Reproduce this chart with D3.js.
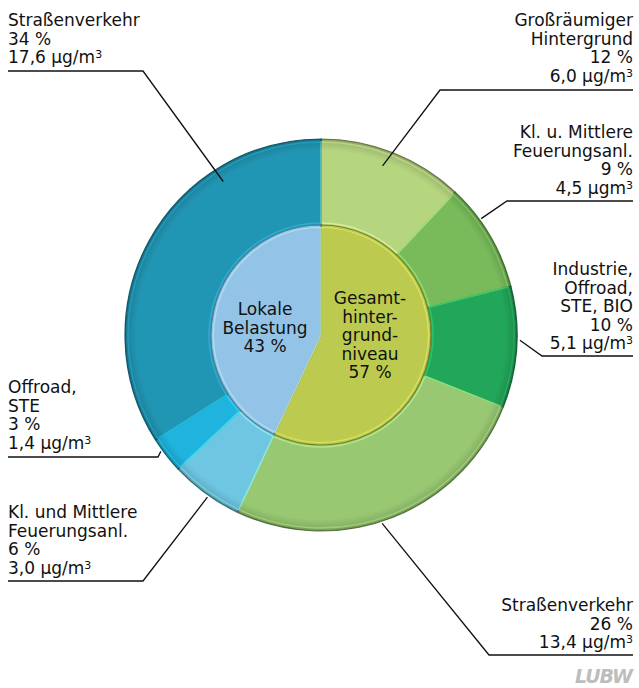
<!DOCTYPE html>
<html>
<head>
<meta charset="utf-8">
<script src="https://cdn.jsdelivr.net/npm/d3@7"></script>
<style>
  html, body { margin: 0; padding: 0; background: #fff; }
  svg { display: block; }
  text { font-family: "DejaVu Sans", sans-serif; fill: #111; }
</style>
</head>
<body>
<svg id="chart" width="639" height="688"></svg>
<script>
// ---- data ----
const innerCategories = ["Gesamthintergrundniveau", "Lokale Belastung"];
const innerValues = [57, 43];
const innerLabels = [["Gesamt-", "hinter-", "grund-", "niveau", "57 %"], ["Lokale", "Belastung", "43 %"]];

const outerCategories = ["Großräumiger Hintergrund", "Kl. u. Mittlere Feuerungsanl.", "Industrie, Offroad, STE, BIO",
  "Straßenverkehr (Hintergrund)", "Kl. und Mittlere Feuerungsanl.", "Offroad, STE", "Straßenverkehr (lokal)"];
const outerValues = [12, 9, 10, 26, 6, 3, 34];
const outerConc = ["6,0 µg/m³", "4,5 µgm³", "5,1 µg/m³", "13,4 µg/m³", "3,0 µg/m³", "1,4 µg/m³", "17,6 µg/m³"];
const outerLabelLines = [
  ["Großräumiger", "Hintergrund", "12 %"],
  ["Kl. u. Mittlere", "Feuerungsanl.", "9 %"],
  ["Industrie,", "Offroad,", "STE, BIO", "10 %"],
  ["Straßenverkehr", "26 %"],
  ["Kl. und Mittlere", "Feuerungsanl.", "6 %"],
  ["Offroad,", "STE", "3 %"],
  ["Straßenverkehr", "34 %"]
];

// ---- styles / layout ----
const innerColors = ["#bccb4f", "#93c4e7"];
const outerColors = ["#b6d57f", "#79bb5b", "#22a65a", "#98c872", "#6ec6e2", "#1fb3de", "#2196b4"];
const cx = 321, cy = 335, rOuter = 196, rInner = 110;
// label layout: side, first baseline, underline y, elbow x, leader end angle (deg), end radius
const labelLayout = [
  {side: "right", y0: 26, uy: 90, ex: 440, ang: 20, er: 180},
  {side: "right", y0: 138, uy: 201, ex: 507, ang: 54, er: 198},
  {side: "right", y0: 275, uy: 356, ex: 542, ang: 91.5, er: 199},
  {side: "right", y0: 611, uy: 655, ex: 489, ang: 162, er: 198},
  {side: "left", y0: 518, uy: 581, ex: 143, ang: 215, er: 198},
  {side: "left", y0: 393, uy: 457, ex: 158, ang: 234, er: 198},
  {side: "left", y0: 26, uy: 71, ex: 143, ang: 327.5, er: 182}
];
const lineH = 18.6, fontSize = 17;

const svg = d3.select("#chart");
const defs = svg.append("defs");
const shade = defs.append("radialGradient").attr("id", "ringShade")
  .attr("gradientUnits", "userSpaceOnUse").attr("cx", 0).attr("cy", 0).attr("r", rOuter);
shade.append("stop").attr("offset", "0.6").attr("stop-color", "#000").attr("stop-opacity", 0);
shade.append("stop").attr("offset", "0.94").attr("stop-color", "#000").attr("stop-opacity", 0);
shade.append("stop").attr("offset", "0.985").attr("stop-color", "#000").attr("stop-opacity", 0.12);
shade.append("stop").attr("offset", "1").attr("stop-color", "#000").attr("stop-opacity", 0.28);

const g = svg.append("g").attr("transform", `translate(${cx},${cy})`);

const pie = d3.pie().sort(null).value(d => d);
const outerArc = d3.arc().innerRadius(rInner - 2).outerRadius(rOuter);
const innerArc = d3.arc().innerRadius(0).outerRadius(rInner);
const hiArc = d3.arc().innerRadius(rInner + 2).outerRadius(rOuter - 3);

const outerData = pie(outerValues);
g.selectAll("path.outer").data(outerData).join("path")
  .attr("class", "outer")
  .attr("d", outerArc)
  .attr("fill", (d, i) => outerColors[i])
  .attr("stroke", (d, i) => d3.color(outerColors[i]).darker(1.2))
  .attr("stroke-width", 1.2);
// bevel highlights
g.selectAll("path.hi").data(outerData).join("path")
  .attr("class", "hi")
  .attr("d", hiArc)
  .attr("fill", "none")
  .attr("stroke", (d, i) => d3.color(outerColors[i]).brighter(0.7))
  .attr("stroke-opacity", 0.6)
  .attr("stroke-width", 1.5);
g.append("circle").attr("r", rOuter).attr("fill", "url(#ringShade)");

const innerData = pie(innerValues);
g.selectAll("path.inner").data(innerData).join("path")
  .attr("class", "inner")
  .attr("d", innerArc)
  .attr("fill", (d, i) => innerColors[i])
  .attr("stroke", (d, i) => d3.color(innerColors[i]).darker(1.3))
  .attr("stroke-width", 1.2);
g.selectAll("path.innerhi").data(innerData).join("path")
  .attr("class", "innerhi")
  .attr("d", d3.arc().innerRadius(0).outerRadius(rInner - 2.5))
  .attr("fill", "none")
  .attr("stroke", (d, i) => d3.color(innerColors[i]).brighter(0.8))
  .attr("stroke-opacity", 0.5)
  .attr("stroke-width", 1.2);

// inner labels
const innerLabelPos = [{x: 49, y0: 304}, {x: -56, y0: 315}];
innerData.forEach((d, i) => {
  const t = g.append("text").attr("text-anchor", "middle").attr("font-size", fontSize);
  innerLabels[i].forEach((ln, j) => {
    t.append("tspan").attr("x", innerLabelPos[i].x).attr("y", innerLabelPos[i].y0 - cy + j * lineH).text(ln);
  });
});

// outer labels with leader lines
outerData.forEach((d, i) => {
  const L = labelLayout[i];
  const lines = outerLabelLines[i].concat([outerConc[i]]);
  const right = L.side === "right";
  const tx = right ? 633 : 8;
  const t = svg.append("text").attr("text-anchor", right ? "end" : "start").attr("font-size", fontSize);
  lines.forEach((ln, j) => {
    const ts = t.append("tspan").attr("x", tx).attr("y", L.y0 + j * lineH);
    const m = ln.match(/^(.*)³$/);
    if (m) {
      ts.text(m[1]);
      t.append("tspan").attr("font-size", 11).attr("dy", -5).text("3");
    } else ts.text(ln);
  });
  const end = d3.pointRadial(L.ang * Math.PI / 180, L.er);
  const pts = [[tx, L.uy], [L.ex, L.uy], [cx + end[0], cy + end[1]]];
  svg.append("path").attr("d", d3.line()(pts)).attr("fill", "none")
    .attr("stroke", "#111").attr("stroke-width", 1.3);
});

// logo
svg.append("text").attr("x", 632).attr("y", 683).attr("text-anchor", "end")
  .attr("font-size", 19).attr("font-weight", "bold").attr("font-style", "italic")
  .style("fill", "#bdbdbd").attr("letter-spacing", -1).text("LUBW");
</script>
</body>
</html>
